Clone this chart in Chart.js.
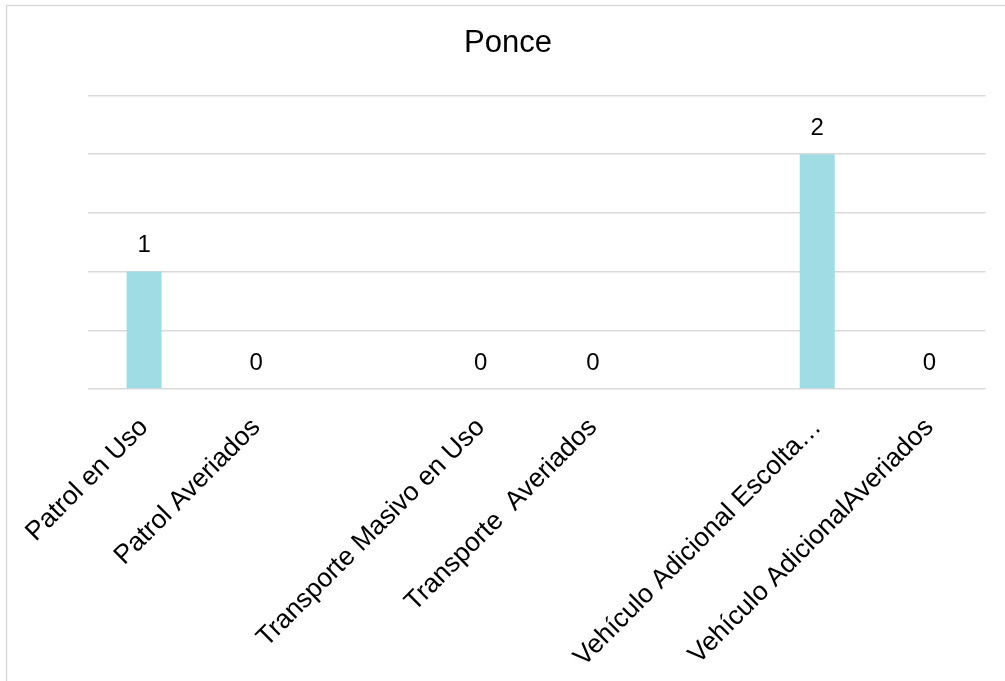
<!DOCTYPE html>
<html>
<head>
<meta charset="utf-8">
<script src="https://cdn.jsdelivr.net/npm/chart.js@4.4.1/dist/chart.umd.min.js"></script>
<style>
  html, body { margin: 0; padding: 0; background: #fff; overflow: hidden; }
  #wrap { position: relative; width: 1005px; height: 681px; }
</style>
</head>
<body>
<div id="wrap"><canvas id="c" width="1005" height="681"></canvas></div>
<script>
const chartTitle = 'Ponce';
const categories = ['Patrol en Uso', 'Patrol Averiados', '', 'Transporte Masivo en Uso', 'Transporte  Averiados', '', 'Vehículo Adicional Escolta…', 'Vehículo AdicionalAveriados'];
const values = [1, 0, null, 0, 0, null, 2, 0];
const yMax = 2.5;
const yStep = 0.5;

const FONT = '"Liberation Sans", Arial, sans-serif';

const frame = {
  id: 'frame',
  beforeDraw(chart) {
    const ctx = chart.ctx;
    ctx.save();
    ctx.fillStyle = '#fff';
    ctx.fillRect(0, 0, chart.width, chart.height);
    ctx.strokeStyle = '#d9d9d9';
    ctx.lineWidth = 1.5;
    ctx.strokeRect(6.5, 5.5, 1200, 900);
    ctx.restore();
  }
};

const valueLabels = {
  id: 'valueLabels',
  afterDatasetsDraw(chart) {
    const ctx = chart.ctx;
    const meta = chart.getDatasetMeta(0);
    const data = chart.data.datasets[0].data;
    ctx.save();
    ctx.font = '24px ' + FONT;
    ctx.fillStyle = '#000';
    ctx.textAlign = 'center';
    ctx.textBaseline = 'middle';
    meta.data.forEach((el, i) => {
      const v = data[i];
      if (v === null || v === undefined) return;
      ctx.fillText(String(v), el.x, el.y - 26);
    });
    ctx.restore();
  }
};

new Chart(document.getElementById('c'), {
  type: 'bar',
  data: {
    labels: categories,
    datasets: [{
      data: values,
      backgroundColor: '#9fdce4',
      borderWidth: 0,
      categoryPercentage: 1,
      barPercentage: 0.312
    }]
  },
  options: {
    responsive: false,
    animation: false,
    devicePixelRatio: 1,
    layout: { padding: { left: 30.5, right: 19.5, top: 0, bottom: 0 } },
    plugins: {
      legend: { display: false },
      tooltip: { enabled: false },
      title: {
        display: true,
        text: chartTitle,
        color: '#000',
        font: { family: FONT, size: 31, weight: 'normal', lineHeight: 1.2 },
        padding: { top: 25, bottom: 33.3 }
      }
    },
    scales: {
      x: {
        grid: { display: false },
        border: { display: false },
        ticks: {
          color: '#000',
          font: { family: FONT, size: 26.5 },
          minRotation: 45,
          maxRotation: 45,
          autoSkip: false,
          padding: 15
        },
        afterFit(s) { s.height = 292; }
      },
      y: {
        min: 0,
        max: yMax,
        ticks: { display: false, stepSize: yStep },
        grid: { color: '#d9d9d9', lineWidth: 1.5, drawTicks: false },
        border: { display: false },
        afterFit(s) { s.width = 57.5; }
      }
    }
  },
  plugins: [frame, valueLabels]
});
</script>
</body>
</html>
